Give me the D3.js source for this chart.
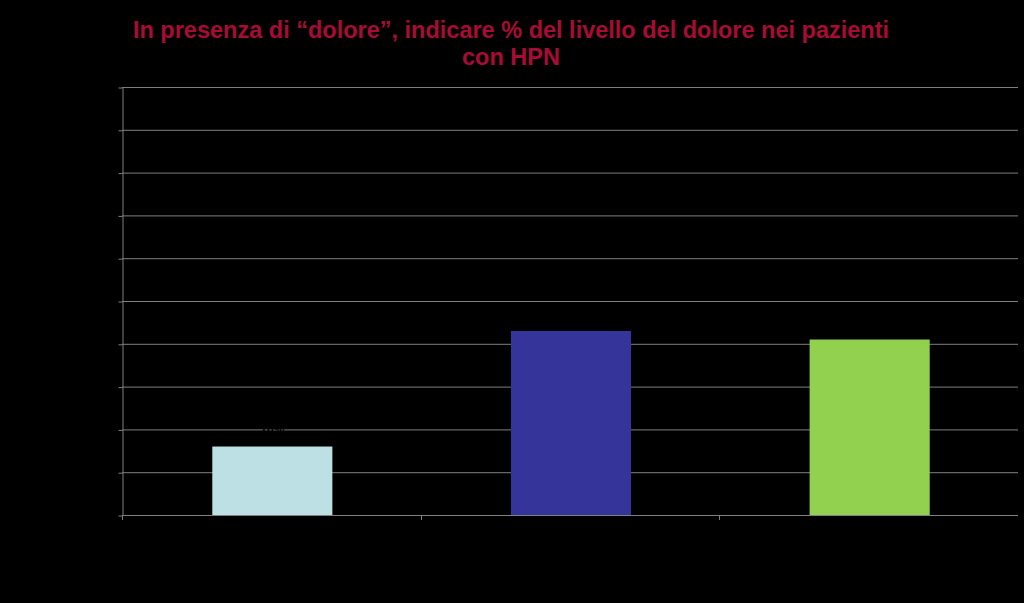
<!DOCTYPE html>
<html><head><meta charset="utf-8">
<script src="https://cdn.jsdelivr.net/npm/d3@7"></script>
<style>html,body{margin:0;padding:0;background:#000;}svg{display:block;}</style>
</head><body>
<svg id="chart" width="1024" height="603"></svg>
<script>
const categories = ["Lieve", "Moderato", "Severo"];
const values = [16, 43, 41];
const barColors = ["#BCE0E3", "#35349A", "#92D050"];
const yTicks = [0, 10, 20, 30, 40, 50, 60, 70, 80, 90, 100];
const titleLines = ["In presenza di \u201cdolore\u201d, indicare % del livello del dolore nei pazienti", "con HPN"];

const svg = d3.select("#chart");
svg.append("rect").attr("width", 1024).attr("height", 603).attr("fill", "#000");

const m = {left: 122, right: 1018, top: 87, bottom: 515};
const x = d3.scaleBand().domain(categories).range([m.left + 1, m.right + 1]).paddingInner(0.598).paddingOuter(0.299);
const y = d3.scaleLinear().domain([0, 100]).range([m.bottom, m.top]);

// gridlines
svg.append("g").selectAll("line").data(yTicks).join("line")
  .attr("x1", m.left).attr("x2", m.right)
  .attr("y1", d => y(d) + 0.5).attr("y2", d => y(d) + 0.5)
  .attr("stroke", "#7f7f7f").attr("stroke-width", 1);

// y axis
const yAxis = svg.append("g").attr("transform", `translate(${m.left + 0.5},0)`)
  .call(d3.axisLeft(y).tickValues(yTicks).tickFormat(d => d + "%").tickSize(4).tickSizeOuter(0));
yAxis.select(".domain").attr("stroke", "#7f7f7f");
yAxis.selectAll(".tick line").attr("stroke", "#7f7f7f").attr("transform", "translate(0,0.5)");
yAxis.selectAll("text").attr("fill", "#000").attr("font-family", "Liberation Sans, Arial").attr("font-size", 12);

// bars
svg.append("g").selectAll("rect").data(values).join("rect")
  .attr("x", (d, i) => x(categories[i]))
  .attr("width", x.bandwidth())
  .attr("y", d => y(d))
  .attr("height", d => y(0) - y(d))
  .attr("fill", (d, i) => barColors[i]);

// x axis
const step = (m.right - m.left) / categories.length;
const catBounds = categories.map((c, i) => m.left + i * step);
const xg = svg.append("g");
xg.append("line").attr("x1", m.left).attr("x2", m.right).attr("y1", m.bottom + 0.5).attr("y2", m.bottom + 0.5)
  .attr("stroke", "#7f7f7f");
xg.selectAll("line.t").data(catBounds).join("line").attr("class", "t")
  .attr("x1", d => Math.round(d) + 0.5).attr("x2", d => Math.round(d) + 0.5)
  .attr("y1", m.bottom).attr("y2", m.bottom + 5).attr("stroke", "#7f7f7f");
xg.selectAll("text").data(categories).join("text")
  .attr("x", d => x(d) + x.bandwidth() / 2).attr("y", m.bottom + 22)
  .attr("text-anchor", "middle").attr("fill", "#000")
  .attr("font-family", "Liberation Sans, Arial").attr("font-size", 14).attr("font-weight", "bold")
  .text(d => d);

// data labels
svg.append("g").selectAll("text").data(values).join("text")
  .attr("x", (d, i) => x(categories[i]) + x.bandwidth() / 2)
  .attr("y", d => y(d) - 14)
  .attr("text-anchor", "middle").attr("fill", "#000")
  .attr("font-family", "Liberation Sans, Arial").attr("font-size", 12).attr("font-weight", "bold")
  .text(d => d + "%");

// title
svg.append("g").selectAll("text").data(titleLines).join("text")
  .attr("x", 511).attr("y", (d, i) => 38 + i * 27)
  .attr("text-anchor", "middle").attr("fill", "#A80C35")
  .attr("font-family", "Liberation Sans, Arial").attr("font-size", 23.5).attr("font-weight", "bold")
  .text(d => d);
</script>
</body></html>
